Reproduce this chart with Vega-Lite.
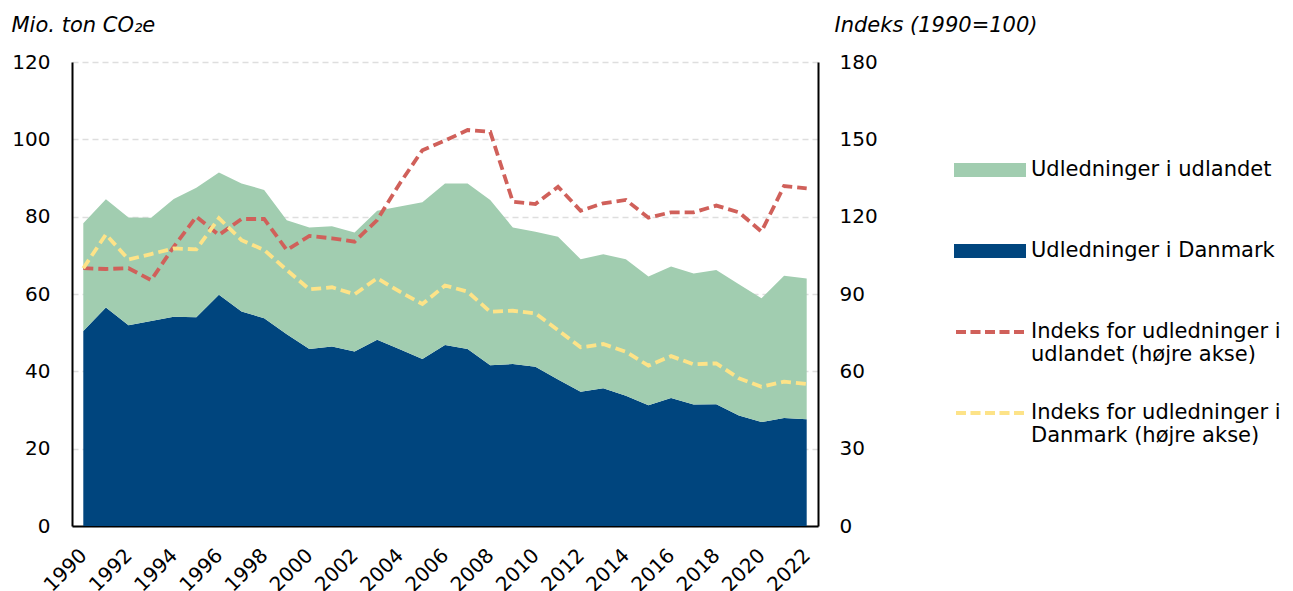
{
  "$schema": "https://vega.github.io/schema/vega-lite/v6.json",
  "width": 746,
  "height": 464,
  "autosize": {"type": "none"},
  "padding": {"left": 72, "top": 62, "right": 475, "bottom": 65},
  "background": "white",
  "config": {
    "font": "DejaVu Sans",
    "view": {"stroke": null},
    "axis": {"labelColor": "black", "titleColor": "black", "labelFont": "DejaVu Sans", "titleFont": "DejaVu Sans"},
    "legend": {"labelFont": "DejaVu Sans"}
  },
  "data": {
    "values": [
      {"aar": 1990, "serie": "Udledninger i Danmark", "vaerdi": 50.4},
      {"aar": 1991, "serie": "Udledninger i Danmark", "vaerdi": 56.5},
      {"aar": 1992, "serie": "Udledninger i Danmark", "vaerdi": 51.9},
      {"aar": 1993, "serie": "Udledninger i Danmark", "vaerdi": 53.0},
      {"aar": 1994, "serie": "Udledninger i Danmark", "vaerdi": 54.1},
      {"aar": 1995, "serie": "Udledninger i Danmark", "vaerdi": 54.0},
      {"aar": 1996, "serie": "Udledninger i Danmark", "vaerdi": 59.8},
      {"aar": 1997, "serie": "Udledninger i Danmark", "vaerdi": 55.5},
      {"aar": 1998, "serie": "Udledninger i Danmark", "vaerdi": 53.7},
      {"aar": 1999, "serie": "Udledninger i Danmark", "vaerdi": 49.6},
      {"aar": 2000, "serie": "Udledninger i Danmark", "vaerdi": 45.8},
      {"aar": 2001, "serie": "Udledninger i Danmark", "vaerdi": 46.4},
      {"aar": 2002, "serie": "Udledninger i Danmark", "vaerdi": 45.1},
      {"aar": 2003, "serie": "Udledninger i Danmark", "vaerdi": 48.2},
      {"aar": 2004, "serie": "Udledninger i Danmark", "vaerdi": 45.7},
      {"aar": 2005, "serie": "Udledninger i Danmark", "vaerdi": 43.2},
      {"aar": 2006, "serie": "Udledninger i Danmark", "vaerdi": 46.8},
      {"aar": 2007, "serie": "Udledninger i Danmark", "vaerdi": 45.8},
      {"aar": 2008, "serie": "Udledninger i Danmark", "vaerdi": 41.6},
      {"aar": 2009, "serie": "Udledninger i Danmark", "vaerdi": 41.9},
      {"aar": 2010, "serie": "Udledninger i Danmark", "vaerdi": 41.2},
      {"aar": 2011, "serie": "Udledninger i Danmark", "vaerdi": 37.9},
      {"aar": 2012, "serie": "Udledninger i Danmark", "vaerdi": 34.7},
      {"aar": 2013, "serie": "Udledninger i Danmark", "vaerdi": 35.6},
      {"aar": 2014, "serie": "Udledninger i Danmark", "vaerdi": 33.7},
      {"aar": 2015, "serie": "Udledninger i Danmark", "vaerdi": 31.2},
      {"aar": 2016, "serie": "Udledninger i Danmark", "vaerdi": 33.1},
      {"aar": 2017, "serie": "Udledninger i Danmark", "vaerdi": 31.4},
      {"aar": 2018, "serie": "Udledninger i Danmark", "vaerdi": 31.5},
      {"aar": 2019, "serie": "Udledninger i Danmark", "vaerdi": 28.6},
      {"aar": 2020, "serie": "Udledninger i Danmark", "vaerdi": 26.9},
      {"aar": 2021, "serie": "Udledninger i Danmark", "vaerdi": 27.9},
      {"aar": 2022, "serie": "Udledninger i Danmark", "vaerdi": 27.6},
      {"aar": 1990, "serie": "Udledninger i udlandet", "vaerdi": 27.9},
      {"aar": 1991, "serie": "Udledninger i udlandet", "vaerdi": 28.0},
      {"aar": 1992, "serie": "Udledninger i udlandet", "vaerdi": 27.9},
      {"aar": 1993, "serie": "Udledninger i udlandet", "vaerdi": 26.7},
      {"aar": 1994, "serie": "Udledninger i udlandet", "vaerdi": 30.5},
      {"aar": 1995, "serie": "Udledninger i udlandet", "vaerdi": 33.5},
      {"aar": 1996, "serie": "Udledninger i udlandet", "vaerdi": 31.6},
      {"aar": 1997, "serie": "Udledninger i udlandet", "vaerdi": 33.1},
      {"aar": 1998, "serie": "Udledninger i udlandet", "vaerdi": 33.2},
      {"aar": 1999, "serie": "Udledninger i udlandet", "vaerdi": 29.5},
      {"aar": 2000, "serie": "Udledninger i udlandet", "vaerdi": 31.4},
      {"aar": 2001, "serie": "Udledninger i udlandet", "vaerdi": 31.1},
      {"aar": 2002, "serie": "Udledninger i udlandet", "vaerdi": 30.8},
      {"aar": 2003, "serie": "Udledninger i udlandet", "vaerdi": 33.3},
      {"aar": 2004, "serie": "Udledninger i udlandet", "vaerdi": 36.9},
      {"aar": 2005, "serie": "Udledninger i udlandet", "vaerdi": 40.5},
      {"aar": 2006, "serie": "Udledninger i udlandet", "vaerdi": 41.8},
      {"aar": 2007, "serie": "Udledninger i udlandet", "vaerdi": 42.8},
      {"aar": 2008, "serie": "Udledninger i udlandet", "vaerdi": 42.7},
      {"aar": 2009, "serie": "Udledninger i udlandet", "vaerdi": 35.3},
      {"aar": 2010, "serie": "Udledninger i udlandet", "vaerdi": 34.9},
      {"aar": 2011, "serie": "Udledninger i udlandet", "vaerdi": 36.9},
      {"aar": 2012, "serie": "Udledninger i udlandet", "vaerdi": 34.3},
      {"aar": 2013, "serie": "Udledninger i udlandet", "vaerdi": 34.7},
      {"aar": 2014, "serie": "Udledninger i udlandet", "vaerdi": 35.3},
      {"aar": 2015, "serie": "Udledninger i udlandet", "vaerdi": 33.3},
      {"aar": 2016, "serie": "Udledninger i udlandet", "vaerdi": 34.0},
      {"aar": 2017, "serie": "Udledninger i udlandet", "vaerdi": 33.9},
      {"aar": 2018, "serie": "Udledninger i udlandet", "vaerdi": 34.7},
      {"aar": 2019, "serie": "Udledninger i udlandet", "vaerdi": 33.9},
      {"aar": 2020, "serie": "Udledninger i udlandet", "vaerdi": 32.0},
      {"aar": 2021, "serie": "Udledninger i udlandet", "vaerdi": 36.8},
      {"aar": 2022, "serie": "Udledninger i udlandet", "vaerdi": 36.4},
      {"aar": 1990, "serie": "Indeks for udledninger i udlandet (højre akse)", "vaerdi": 100},
      {"aar": 1991, "serie": "Indeks for udledninger i udlandet (højre akse)", "vaerdi": 99.7},
      {"aar": 1992, "serie": "Indeks for udledninger i udlandet (højre akse)", "vaerdi": 100},
      {"aar": 1993, "serie": "Indeks for udledninger i udlandet (højre akse)", "vaerdi": 95.4},
      {"aar": 1994, "serie": "Indeks for udledninger i udlandet (højre akse)", "vaerdi": 108.3},
      {"aar": 1995, "serie": "Indeks for udledninger i udlandet (højre akse)", "vaerdi": 120},
      {"aar": 1996, "serie": "Indeks for udledninger i udlandet (højre akse)", "vaerdi": 112.9},
      {"aar": 1997, "serie": "Indeks for udledninger i udlandet (højre akse)", "vaerdi": 119.1},
      {"aar": 1998, "serie": "Indeks for udledninger i udlandet (højre akse)", "vaerdi": 119.1},
      {"aar": 1999, "serie": "Indeks for udledninger i udlandet (højre akse)", "vaerdi": 107.1},
      {"aar": 2000, "serie": "Indeks for udledninger i udlandet (højre akse)", "vaerdi": 112.5},
      {"aar": 2001, "serie": "Indeks for udledninger i udlandet (højre akse)", "vaerdi": 111.6},
      {"aar": 2002, "serie": "Indeks for udledninger i udlandet (højre akse)", "vaerdi": 110.3},
      {"aar": 2003, "serie": "Indeks for udledninger i udlandet (højre akse)", "vaerdi": 118.7},
      {"aar": 2004, "serie": "Indeks for udledninger i udlandet (højre akse)", "vaerdi": 132.9},
      {"aar": 2005, "serie": "Indeks for udledninger i udlandet (højre akse)", "vaerdi": 145.8},
      {"aar": 2006, "serie": "Indeks for udledninger i udlandet (højre akse)", "vaerdi": 149.5},
      {"aar": 2007, "serie": "Indeks for udledninger i udlandet (højre akse)", "vaerdi": 153.6},
      {"aar": 2008, "serie": "Indeks for udledninger i udlandet (højre akse)", "vaerdi": 152.9},
      {"aar": 2009, "serie": "Indeks for udledninger i udlandet (højre akse)", "vaerdi": 125.8},
      {"aar": 2010, "serie": "Indeks for udledninger i udlandet (højre akse)", "vaerdi": 124.9},
      {"aar": 2011, "serie": "Indeks for udledninger i udlandet (højre akse)", "vaerdi": 131.6},
      {"aar": 2012, "serie": "Indeks for udledninger i udlandet (højre akse)", "vaerdi": 122.3},
      {"aar": 2013, "serie": "Indeks for udledninger i udlandet (højre akse)", "vaerdi": 125.2},
      {"aar": 2014, "serie": "Indeks for udledninger i udlandet (højre akse)", "vaerdi": 126.5},
      {"aar": 2015, "serie": "Indeks for udledninger i udlandet (højre akse)", "vaerdi": 119.6},
      {"aar": 2016, "serie": "Indeks for udledninger i udlandet (højre akse)", "vaerdi": 121.7},
      {"aar": 2017, "serie": "Indeks for udledninger i udlandet (højre akse)", "vaerdi": 121.7},
      {"aar": 2018, "serie": "Indeks for udledninger i udlandet (højre akse)", "vaerdi": 124.3},
      {"aar": 2019, "serie": "Indeks for udledninger i udlandet (højre akse)", "vaerdi": 121.7},
      {"aar": 2020, "serie": "Indeks for udledninger i udlandet (højre akse)", "vaerdi": 114.2},
      {"aar": 2021, "serie": "Indeks for udledninger i udlandet (højre akse)", "vaerdi": 131.9},
      {"aar": 2022, "serie": "Indeks for udledninger i udlandet (højre akse)", "vaerdi": 131.0},
      {"aar": 1990, "serie": "Indeks for udledninger i Danmark (højre akse)", "vaerdi": 100},
      {"aar": 1991, "serie": "Indeks for udledninger i Danmark (højre akse)", "vaerdi": 113.1},
      {"aar": 1992, "serie": "Indeks for udledninger i Danmark (højre akse)", "vaerdi": 103.4},
      {"aar": 1993, "serie": "Indeks for udledninger i Danmark (højre akse)", "vaerdi": 105.5},
      {"aar": 1994, "serie": "Indeks for udledninger i Danmark (højre akse)", "vaerdi": 107.7},
      {"aar": 1995, "serie": "Indeks for udledninger i Danmark (højre akse)", "vaerdi": 107.3},
      {"aar": 1996, "serie": "Indeks for udledninger i Danmark (højre akse)", "vaerdi": 119.4},
      {"aar": 1997, "serie": "Indeks for udledninger i Danmark (højre akse)", "vaerdi": 110.9},
      {"aar": 1998, "serie": "Indeks for udledninger i Danmark (højre akse)", "vaerdi": 107.1},
      {"aar": 1999, "serie": "Indeks for udledninger i Danmark (højre akse)", "vaerdi": 99.3},
      {"aar": 2000, "serie": "Indeks for udledninger i Danmark (højre akse)", "vaerdi": 91.8},
      {"aar": 2001, "serie": "Indeks for udledninger i Danmark (højre akse)", "vaerdi": 92.6},
      {"aar": 2002, "serie": "Indeks for udledninger i Danmark (højre akse)", "vaerdi": 89.9},
      {"aar": 2003, "serie": "Indeks for udledninger i Danmark (højre akse)", "vaerdi": 96.1},
      {"aar": 2004, "serie": "Indeks for udledninger i Danmark (højre akse)", "vaerdi": 90.9},
      {"aar": 2005, "serie": "Indeks for udledninger i Danmark (højre akse)", "vaerdi": 86.1},
      {"aar": 2006, "serie": "Indeks for udledninger i Danmark (højre akse)", "vaerdi": 93.3},
      {"aar": 2007, "serie": "Indeks for udledninger i Danmark (højre akse)", "vaerdi": 90.9},
      {"aar": 2008, "serie": "Indeks for udledninger i Danmark (højre akse)", "vaerdi": 83.1},
      {"aar": 2009, "serie": "Indeks for udledninger i Danmark (højre akse)", "vaerdi": 83.5},
      {"aar": 2010, "serie": "Indeks for udledninger i Danmark (højre akse)", "vaerdi": 82.5},
      {"aar": 2011, "serie": "Indeks for udledninger i Danmark (højre akse)", "vaerdi": 76.0},
      {"aar": 2012, "serie": "Indeks for udledninger i Danmark (højre akse)", "vaerdi": 69.3},
      {"aar": 2013, "serie": "Indeks for udledninger i Danmark (højre akse)", "vaerdi": 70.6},
      {"aar": 2014, "serie": "Indeks for udledninger i Danmark (højre akse)", "vaerdi": 67.6},
      {"aar": 2015, "serie": "Indeks for udledninger i Danmark (højre akse)", "vaerdi": 62.2},
      {"aar": 2016, "serie": "Indeks for udledninger i Danmark (højre akse)", "vaerdi": 65.9},
      {"aar": 2017, "serie": "Indeks for udledninger i Danmark (højre akse)", "vaerdi": 62.7},
      {"aar": 2018, "serie": "Indeks for udledninger i Danmark (højre akse)", "vaerdi": 63.1},
      {"aar": 2019, "serie": "Indeks for udledninger i Danmark (højre akse)", "vaerdi": 57.3},
      {"aar": 2020, "serie": "Indeks for udledninger i Danmark (højre akse)", "vaerdi": 54.0},
      {"aar": 2021, "serie": "Indeks for udledninger i Danmark (højre akse)", "vaerdi": 56.0},
      {"aar": 2022, "serie": "Indeks for udledninger i Danmark (højre akse)", "vaerdi": 55.1}
    ]
  },
  "encoding": {
    "x": {
      "field": "aar",
      "type": "quantitative",
      "scale": {"domain": [1989.5, 2022.5], "nice": false, "zero": false},
      "axis": {
        "title": null,
        "values": [1990, 1992, 1994, 1996, 1998, 2000, 2002, 2004, 2006, 2008, 2010, 2012, 2014, 2016, 2018, 2020, 2022],
        "format": "d",
        "labelAngle": -45,
        "labelAlign": "right",
        "labelBaseline": "middle",
        "labelFontSize": 20,
        "labelPadding": 26,
        "labelOverlap": false,
        "labelFlush": false,
        "labelBound": false,
        "ticks": false,
        "tickSize": 0,
        "grid": false,
        "domainColor": "black",
        "domainWidth": 2
      }
    },
    "color": {
      "field": "serie",
      "type": "nominal",
      "scale": {
        "domain": ["Udledninger i udlandet", "Udledninger i Danmark", "Indeks for udledninger i udlandet (højre akse)", "Indeks for udledninger i Danmark (højre akse)"],
        "range": ["#a1cdb0", "#00457e", "#d0605a", "#fde388"]
      },
      "legend": {
        "title": null,
        "orient": "none",
        "legendX": 882,
        "legendY": 72,
        "padding": 0,
        "rowPadding": 12,
        "symbolSize": 4624,
        "symbolStrokeWidth": 4,
        "labelFontSize": 21,
        "labelOffset": 5,
        "labelLimit": 400,
        "labelColor": "black",
        "labelExpr": "indexof(datum.label, 'Indeks') === 0 ? ['Indeks for udledninger i', slice(datum.label, 25)] : [datum.label, ' ']",
        "encode": {
          "symbols": {
            "update": {
              "shape": {"signal": "indexof(datum.value, 'Indeks') === 0 ? 'M-1,0L-0.706,0M-0.574,0L-0.279,0M-0.147,0L0.147,0M0.279,0L0.574,0M0.706,0L1,0' : 'M-1,-0.15L1,-0.15L1,0.15L-1,0.15Z'"},
              "fill": {"signal": "indexof(datum.value, 'Indeks') === 0 ? 'transparent' : scale('color', datum.value)"},
              "stroke": {"signal": "indexof(datum.value, 'Indeks') === 0 ? scale('color', datum.value) : 'transparent'"},
              "strokeWidth": {"value": 4},
              "opacity": {"value": 1}
            }
          }
        }
      }
    }
  },
  "layer": [
    {
      "transform": [{"filter": "indexof(datum.serie, 'Indeks') < 0"}],
      "mark": {"type": "area", "opacity": 1},
      "encoding": {
        "y": {
          "field": "vaerdi",
          "type": "quantitative",
          "stack": "zero",
          "scale": {"domain": [0, 120], "nice": false},
          "axis": {
            "orient": "left",
            "values": [0, 20, 40, 60, 80, 100, 120],
            "title": "Mio. ton CO₂e",
            "titleAngle": 0,
            "titleAlign": "left",
            "titleBaseline": "middle",
            "titleX": -61,
            "titleY": -37,
            "titleFontStyle": "italic",
            "titleFontWeight": "normal",
            "titleFontSize": 21,
            "labelFontSize": 20,
            "labelPadding": 22,
            "ticks": false,
            "tickSize": 0,
            "domainColor": "black",
            "domainWidth": 2,
            "grid": true,
            "gridColor": "#dedede",
            "gridDash": [6, 4],
            "gridWidth": 1.5
          }
        },
        "order": {"field": "serie", "sort": "ascending"}
      }
    },
    {
      "transform": [{"filter": "indexof(datum.serie, 'Indeks') === 0"}],
      "mark": {"type": "line", "strokeDash": [10, 5], "strokeWidth": 3.8},
      "encoding": {
        "y": {
          "field": "vaerdi",
          "type": "quantitative",
          "scale": {"domain": [0, 180], "nice": false},
          "axis": {
            "orient": "right",
            "values": [0, 30, 60, 90, 120, 150, 180],
            "title": "Indeks (1990=100)",
            "titleAngle": 0,
            "titleAlign": "left",
            "titleBaseline": "middle",
            "titleX": 16,
            "titleY": -37,
            "titleFontStyle": "italic",
            "titleFontWeight": "normal",
            "titleFontSize": 21,
            "labelFontSize": 20,
            "labelPadding": 21,
            "ticks": false,
            "tickSize": 0,
            "domainColor": "black",
            "domainWidth": 2,
            "grid": false
          }
        }
      }
    }
  ],
  "resolve": {"scale": {"y": "independent"}}
}
